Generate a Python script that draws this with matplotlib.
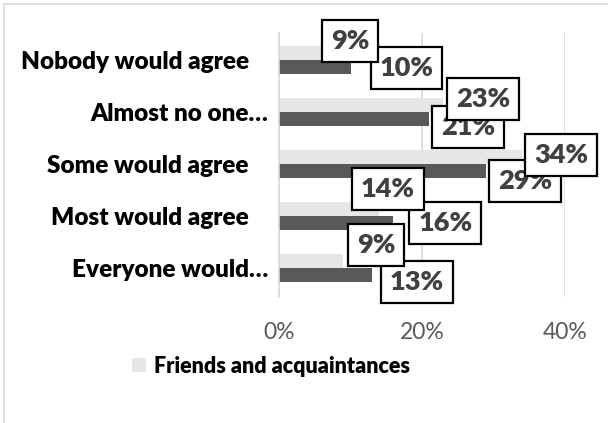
import matplotlib
matplotlib.use("Agg")
import matplotlib.pyplot as plt
from matplotlib.patches import Rectangle
from matplotlib.transforms import ScaledTranslation
import numpy as np

plt.rcParams['font.family'] = ['Lato', 'DejaVu Sans']

# data
categories = ["Nobody would agree", "Almost no one…", "Some would agree",
              "Most would agree", "Everyone would…"]
friends = [9, 23, 34, 14, 9]      # light series (in legend)
other = [10, 21, 29, 16, 13]      # dark series
legend_label = "Friends and acquaintances"
x_ticks = [0, 20, 40]

# label box offsets from bar end, in pixels (manual placement as in the original)
friends_offsets = [(7, 12), (40, 6), (39, 2), (9, 20), (33, 16)]
other_offsets = [(56, -1), (39, -8), (39, -10), (52, 0), (45, -7)]

LIGHT = "#e7e6e6"
DARK = "#595959"
W = "heavy"

fig = plt.figure(figsize=(6.08, 4.23), dpi=100)
ax = fig.add_axes([279 / 608, 1 - 297 / 423, 286 / 608, 264 / 423])

y = np.arange(len(categories))
h = 0.27
ax.barh(y - h / 2, friends, height=h, color=LIGHT, label=legend_label, zorder=2)
ax.barh(y + h / 2, other, height=h, color=DARK, zorder=2)

ax.set_xlim(0, 40)
ax.set_ylim(len(categories) - 0.45, -0.51)
ax.set_xticks(x_ticks)
ax.set_xticklabels([f"{t}%" for t in x_ticks], fontsize=16.5, color="#595959")
ax.set_yticks(y)
ax.set_yticklabels(categories, fontsize=17.5, fontweight=W, color="black")
ax.tick_params(axis="both", length=0)
ax.tick_params(axis="x", pad=18)
ax.tick_params(axis="y", pad=8)
for lab in ax.get_yticklabels():
    if not lab.get_text().endswith("…"):
        lab.set_transform(lab.get_transform() + ScaledTranslation(-19 / 100, 0, fig.dpi_scale_trans))

ax.grid(axis="x", color="#d9d9d9", lw=1.2, zorder=0)
for s in ["top", "right", "bottom"]:
    ax.spines[s].set_visible(False)
ax.spines["left"].set_color("#d9d9d9")
ax.spines["left"].set_linewidth(1.2)

box = dict(boxstyle="square,pad=0.33", fc="white", ec="black", lw=1.6)
for i, v in enumerate(other):
    dx, dy = other_offsets[i]
    ax.annotate(f"{v}%", (v, i + h / 2), xytext=(dx * 0.72, dy * 0.72),
                textcoords="offset points", ha="center", va="center",
                fontsize=19.5, fontweight=W, color="#404040", bbox=box,
                annotation_clip=False, zorder=5)
for i, v in enumerate(friends):
    dx, dy = friends_offsets[i]
    ax.annotate(f"{v}%", (v, i - h / 2), xytext=(dx * 0.72, dy * 0.72),
                textcoords="offset points", ha="center", va="center",
                fontsize=19.5, fontweight=W, color="#404040", bbox=box,
                annotation_clip=False, zorder=6)

fig.legend(loc="center", bbox_to_anchor=(271 / 608, 1 - 366 / 423), frameon=False,
           handlelength=0.65, handleheight=0.65, handletextpad=0.35,
           prop={"size": 15.5, "weight": W})

# chart area border
fig.patches.append(Rectangle((4 / 608, -0.1), 1.2, 1.1 - 4 / 423, transform=fig.transFigure,
                             fill=False, ec="#d9d9d9", lw=1.2))

fig.savefig("out.png", dpi=100)
